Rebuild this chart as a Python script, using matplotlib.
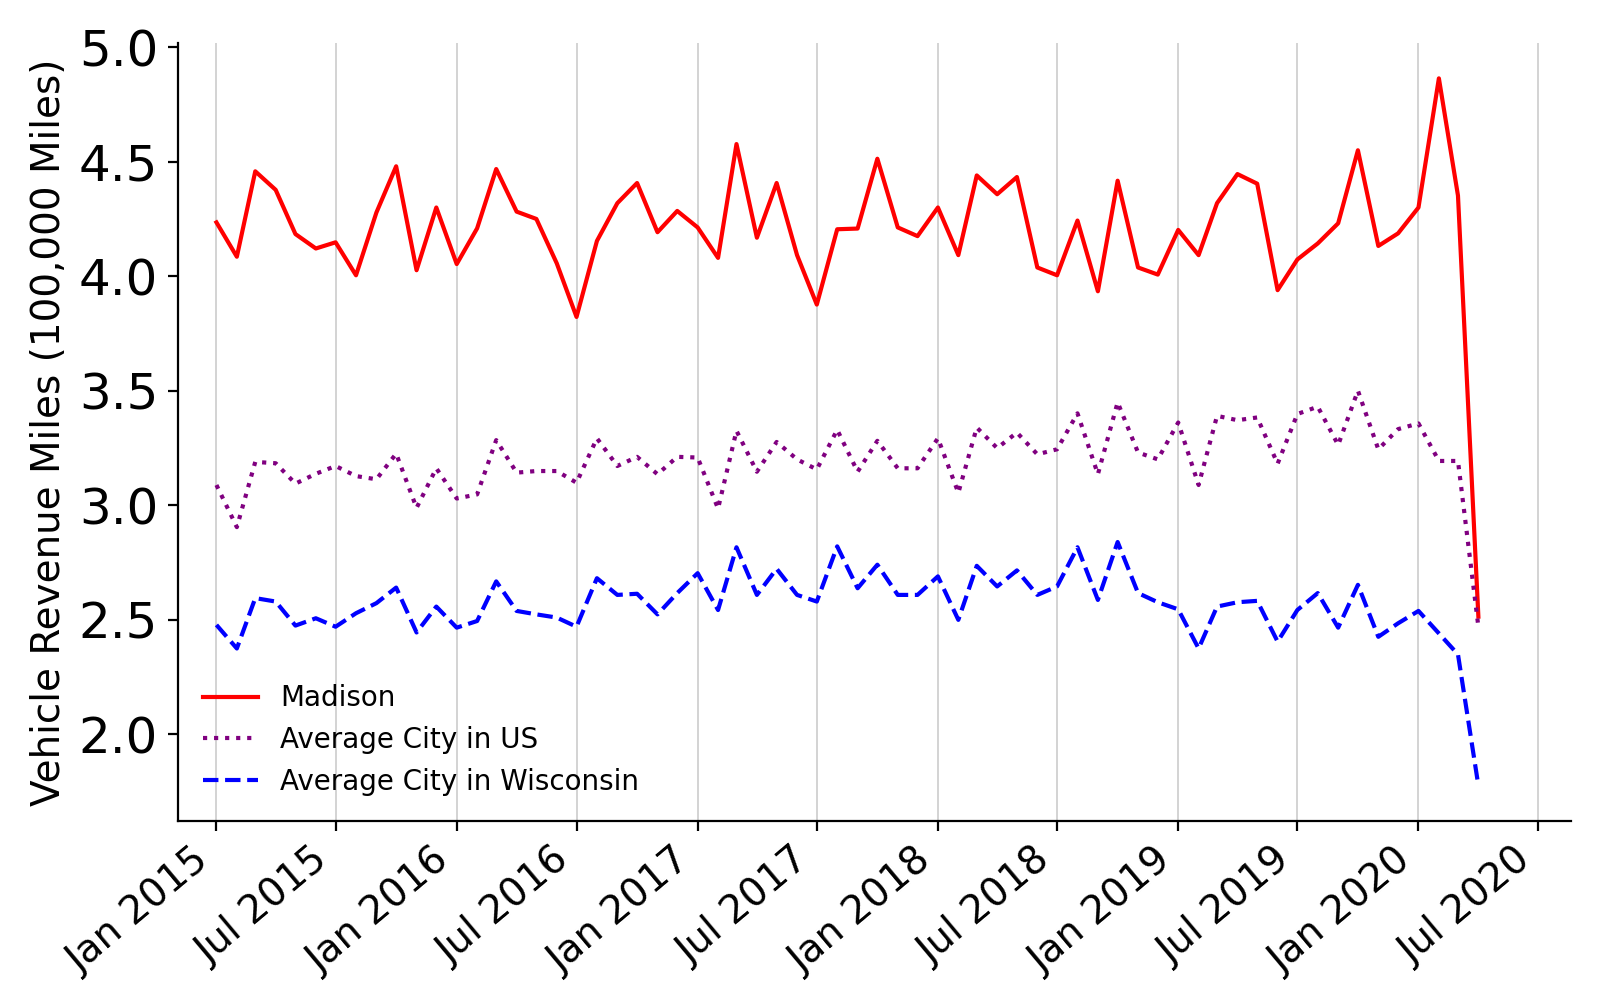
import matplotlib
matplotlib.use("Agg")
import matplotlib.pyplot as plt
import matplotlib.dates as mdates
import pandas as pd

# monthly values, Jan 2015 .. Apr 2020 (100,000 miles)
months = pd.date_range("2015-01-01", "2020-04-01", freq="MS")

madison = [4.235, 4.085, 4.458, 4.377, 4.184, 4.121, 4.148, 4.004, 4.278, 4.480,
           4.026, 4.300, 4.053, 4.209, 4.468, 4.282, 4.250, 4.056, 3.822, 4.154,
           4.319, 4.407, 4.192, 4.285, 4.213, 4.080, 4.577, 4.168, 4.407, 4.092,
           3.876, 4.205, 4.208, 4.513, 4.213, 4.175, 4.300, 4.092, 4.440, 4.358,
           4.433, 4.038, 4.004, 4.243, 3.934, 4.417, 4.038, 4.007, 4.202, 4.092,
           4.319, 4.446, 4.404, 3.939, 4.073, 4.143, 4.231, 4.550, 4.132, 4.187,
           4.300, 4.864, 4.352, 2.513]

us_avg = [3.088, 2.904, 3.189, 3.183, 3.094, 3.137, 3.171, 3.127, 3.113, 3.225,
          2.988, 3.161, 3.029, 3.047, 3.284, 3.142, 3.149, 3.149, 3.098, 3.292,
          3.171, 3.211, 3.135, 3.211, 3.208, 2.985, 3.325, 3.146, 3.276, 3.200,
          3.156, 3.329, 3.146, 3.281, 3.161, 3.161, 3.292, 3.054, 3.339, 3.249,
          3.317, 3.222, 3.244, 3.401, 3.135, 3.449, 3.230, 3.200, 3.361, 3.088,
          3.390, 3.371, 3.383, 3.181, 3.398, 3.430, 3.263, 3.500, 3.244, 3.332,
          3.357, 3.193, 3.193, 2.469]

wi_avg = [2.477, 2.374, 2.594, 2.579, 2.474, 2.506, 2.469, 2.528, 2.572, 2.640,
          2.444, 2.557, 2.465, 2.494, 2.667, 2.538, 2.523, 2.509, 2.469, 2.681,
          2.608, 2.613, 2.523, 2.616, 2.703, 2.542, 2.816, 2.608, 2.722, 2.608,
          2.579, 2.820, 2.637, 2.740, 2.608, 2.608, 2.689, 2.499, 2.735, 2.645,
          2.715, 2.608, 2.645, 2.816, 2.586, 2.839, 2.616, 2.576, 2.545, 2.374,
          2.557, 2.576, 2.582, 2.404, 2.542, 2.616, 2.465, 2.652, 2.425, 2.484,
          2.538, 2.440, 2.348, 1.775]

fig, ax = plt.subplots(figsize=(8, 5), dpi=200)
fig.subplots_adjust(left=0.111, right=0.982, top=0.957, bottom=0.179)

ax.plot(months, madison, color="red", label="Madison")
ax.plot(months, us_avg, color="purple", linestyle=":", label="Average City in US")
ax.plot(months, wi_avg, color="blue", linestyle="--", label="Average City in Wisconsin")

ax.xaxis.set_major_locator(mdates.MonthLocator(bymonth=(1, 7)))
ax.xaxis.set_major_formatter(mdates.DateFormatter("%b %Y"))
ax.set_xlim(pd.Timestamp("2014-11-03"), pd.Timestamp("2020-08-20"))
ax.grid(axis="x", color="lightgray", linewidth=0.7)
ax.set_axisbelow(True)

plt.xticks(rotation=40, ha="right", fontsize=14)
plt.yticks(fontsize=18)
ax.set_ylabel("Vehicle Revenue Miles (100,000 Miles)", fontsize=14)
ax.spines["top"].set_visible(False)
ax.spines["right"].set_visible(False)
ax.legend(loc="lower left", frameon=False)

fig.savefig("out.png", dpi=200)
